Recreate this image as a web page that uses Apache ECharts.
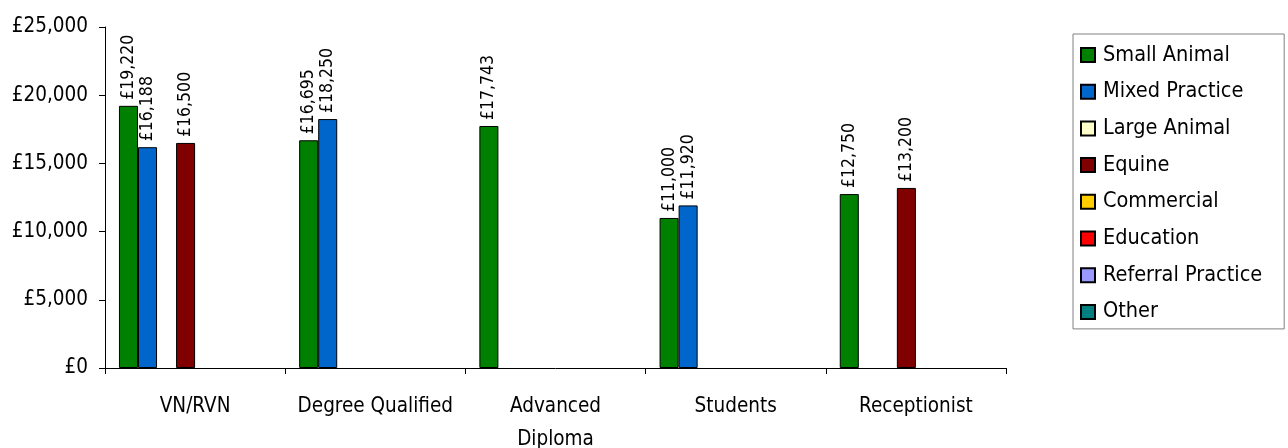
<!DOCTYPE html>
<html>
<head>
<meta charset="utf-8">
<script src="https://cdn.jsdelivr.net/npm/echarts@6/dist/echarts.min.js"></script>
<style>
html,body{margin:0;padding:0;background:#fff;}
#chart{width:1288px;height:448px;}
</style>
</head>
<body>
<div id="chart"></div>
<script>
var categories = ['VN/RVN', 'Degree Qualified', 'Advanced\nDiploma', 'Students', 'Receptionist'];
var seriesNames = ['Small Animal', 'Mixed Practice', 'Large Animal', 'Equine', 'Commercial', 'Education', 'Referral Practice', 'Other'];
var smallAnimal = [19220, 16695, 17743, 11000, 12750];
var mixedPractice = [16188, 18250, null, 11920, null];
var largeAnimal = [null, null, null, null, null];
var equine = [16500, null, null, null, 13200];
var commercial = [null, null, null, null, null];
var education = [null, null, null, null, null];
var referralPractice = [null, null, null, null, null];
var other = [null, null, null, null, null];
var yTicks = [0, 5000, 10000, 15000, 20000, 25000];
var colors = ['#008000', '#0066CC', '#FFFFCC', '#800000', '#FFCC00', '#FF0000', '#9999FF', '#008080'];

var allData = [smallAnimal, mixedPractice, largeAnimal, equine, commercial, education, referralPractice, other];
var FONT = '"DejaVu Sans Condensed", "DejaVu Sans", sans-serif';

function money(v) {
  return '£' + Number(v).toLocaleString('en-GB');
}

var series = seriesNames.map(function (name, i) {
  return {
    name: name,
    type: 'bar',
    data: allData[i],
    barGap: '0%',
    barCategoryGap: '15.5%',
    itemStyle: { color: colors[i], borderColor: '#000', borderWidth: 1 },
    label: {
      show: true,
      position: 'top',
      rotate: 90,
      align: 'left',
      verticalAlign: 'middle',
      distance: 6,
      color: '#000',
      fontFamily: FONT,
      fontSize: 17.5,
      formatter: function (p) { return p.value == null ? '' : money(p.value); }
    },
    emphasis: { disabled: true },
    animation: false
  };
});

var chart = echarts.init(document.getElementById('chart'), null, { renderer: 'canvas' });
chart.setOption({
  animation: false,
  color: colors,
  grid: { left: 105, top: 27, right: 282, bottom: 80, containLabel: false, outerBoundsMode: 'none' },
  legend: {
    orient: 'vertical',
    left: 1073,
    top: 34,
    data: seriesNames,
    icon: 'rect',
    itemWidth: 14,
    itemHeight: 14,
    itemGap: 14.7,
    padding: [10, 22, 6, 7],
    borderColor: '#808080',
    borderWidth: 1,
    textStyle: { fontFamily: FONT, fontSize: 21.5, color: '#000', lineHeight: 22, padding: [0, 0, 0, 3] },
    selectedMode: false
  },
  xAxis: {
    type: 'category',
    data: categories,
    boundaryGap: true,
    axisLine: { lineStyle: { color: '#000', width: 1 } },
    axisTick: { show: true, alignWithLabel: false, length: 6, lineStyle: { color: '#000' } },
    axisLabel: { fontFamily: FONT, fontSize: 20.5, color: '#000', margin: 22, lineHeight: 33, interval: 0 },
    splitLine: { show: false }
  },
  yAxis: {
    type: 'value',
    min: yTicks[0],
    max: yTicks[yTicks.length - 1],
    interval: yTicks[1] - yTicks[0],
    axisLine: { show: true, lineStyle: { color: '#000', width: 1 } },
    axisTick: { show: true, length: 6, lineStyle: { color: '#000' } },
    axisLabel: { fontFamily: FONT, fontSize: 20.5, color: '#000', margin: 17, formatter: money },
    splitLine: { show: false }
  },
  series: series
});
</script>
</body>
</html>
